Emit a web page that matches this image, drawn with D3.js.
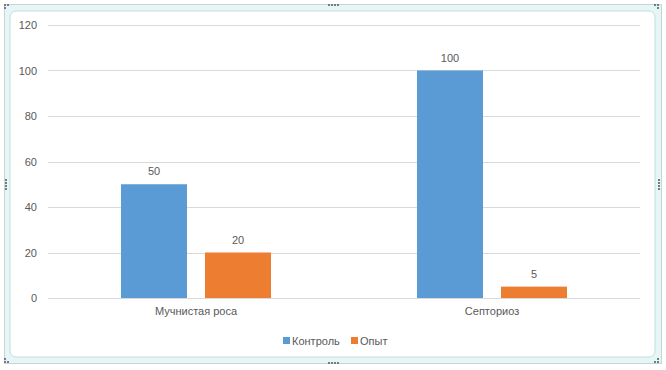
<!DOCTYPE html>
<html>
<head>
<meta charset="utf-8">
<script src="https://cdn.jsdelivr.net/npm/d3@7"></script>
<style>
  body { margin: 0; background: #fff; }
  text { font-family: "Liberation Sans", "DejaVu Sans", sans-serif; fill: #595959; }
</style>
</head>
<body>
<div id="chart"></div>
<script>
// data
var categories = ["Мучнистая роса", "Септориоз"];
var seriesNames = ["Контроль", "Опыт"];
var control = [50, 100];
var experiment = [20, 5];
var yTicks = [0, 20, 40, 60, 80, 100, 120];
var colors = ["#5B9BD5", "#ED7D31"];

var svgWidth = 666, svgHeight = 370;
var margin = { top: 25, right: 26, bottom: 72, left: 48 };
var chartWidth = svgWidth - margin.left - margin.right;
var chartHeight = svgHeight - margin.top - margin.bottom;

var svg = d3.select("#chart").append("svg")
  .attr("width", svgWidth)
  .attr("height", svgHeight);

// selection frame round the chart
svg.append("rect")
  .attr("x", 4.5).attr("y", 4.5)
  .attr("width", 657).attr("height", 359)
  .attr("fill", "#e6f6f6")
  .attr("stroke", "#c9d3d3");
svg.append("rect")
  .attr("x", 10).attr("y", 11)
  .attr("width", 645).attr("height", 346)
  .attr("rx", 6)
  .attr("fill", "#fff")
  .attr("stroke", "#c5dcdc");

// little handle dots
function dots(cx, cy, horiz) {
  for (var i = 0; i < 4; i++) {
    svg.append("rect")
      .attr("x", horiz ? cx + i * 3 - 5 : cx - 1)
      .attr("y", horiz ? cy - 1 : cy + i * 3 - 5)
      .attr("width", 2).attr("height", 2)
      .attr("fill", "#6f7f7f");
  }
}
dots(333, 5, true);
dots(333, 363, true);
dots(6, 184, false);
dots(659, 184, false);
[[6, 6], [659, 6], [6, 363], [659, 363]].forEach(function(p) {
  [[0, 0], [3, 0], [0, 3]].forEach(function(o) {
    svg.append("rect")
      .attr("x", p[0] - 2 + (p[0] > 300 ? -o[0] : o[0]))
      .attr("y", p[1] - 2 + (p[1] > 200 ? -o[1] : o[1]))
      .attr("width", 2).attr("height", 2)
      .attr("fill", "#6f7f7f");
  });
});

var chartGroup = svg.append("g")
  .attr("transform", `translate(${margin.left}, ${margin.top})`);

// scales
var xScale = d3.scaleBand()
  .domain(categories)
  .range([0, chartWidth]);

var xInner = d3.scaleBand()
  .domain(seriesNames)
  .range([xScale.bandwidth() / 2 - 75, xScale.bandwidth() / 2 + 75])
  .paddingInner(18 / 84);

var yScale = d3.scaleLinear()
  .domain([0, 120])
  .range([chartHeight, 0]);

// gridlines
chartGroup.append("g")
  .selectAll("line")
  .data(yTicks)
  .enter()
  .append("line")
  .attr("x1", 0)
  .attr("x2", chartWidth)
  .attr("y1", d => Math.round(yScale(d)) + 0.5)
  .attr("y2", d => Math.round(yScale(d)) + 0.5)
  .attr("stroke", "#d9d9d9");

// y axis labels
var yAxis = d3.axisLeft(yScale).tickValues(yTicks).tickSize(0).tickPadding(11);
var yAxisGroup = chartGroup.append("g").call(yAxis);
yAxisGroup.select(".domain").remove();
yAxisGroup.selectAll("text")
  .style("font-size", "11px")
  .attr("fill", "#595959");

// x axis labels
var xAxis = d3.axisBottom(xScale).tickSize(0).tickPadding(9);
var xAxisGroup = chartGroup.append("g")
  .attr("transform", `translate(0, ${chartHeight})`)
  .call(xAxis);
xAxisGroup.select(".domain").remove();
xAxisGroup.selectAll("text")
  .style("font-size", "11px")
  .attr("fill", "#595959");

// bars
var rows = categories.map(function(c, i) {
  return { cat: c, values: [control[i], experiment[i]] };
});

var groups = chartGroup.append("g").selectAll("g")
  .data(rows)
  .enter()
  .append("g")
  .attr("transform", d => `translate(${xScale(d.cat)}, 0)`);

groups.selectAll("rect")
  .data(d => d.values.map((v, j) => ({ name: seriesNames[j], value: v, j: j })))
  .enter()
  .append("rect")
  .attr("x", d => xInner(d.name))
  .attr("width", xInner.bandwidth())
  .attr("y", d => yScale(d.value))
  .attr("height", d => chartHeight - yScale(d.value))
  .attr("fill", d => colors[d.j]);

groups.selectAll("text.val")
  .data(d => d.values.map((v, j) => ({ name: seriesNames[j], value: v })))
  .enter()
  .append("text")
  .attr("class", "val")
  .attr("x", d => xInner(d.name) + xInner.bandwidth() / 2)
  .attr("y", d => yScale(d.value) - 9)
  .attr("text-anchor", "middle")
  .style("font-size", "11px")
  .text(d => d.value);

// legend
var legend = svg.append("g")
  .attr("transform", "translate(283, 341)");
var legendX = [0, 68];
seriesNames.forEach(function(name, i) {
  var item = legend.append("g").attr("transform", `translate(${legendX[i]}, 0)`);
  item.append("rect")
    .attr("x", 0).attr("y", -4)
    .attr("width", 7).attr("height", 7)
    .attr("fill", colors[i]);
  item.append("text")
    .attr("x", 9).attr("y", 4)
    .style("font-size", "11px")
    .text(name);
});
</script>
</body>
</html>
